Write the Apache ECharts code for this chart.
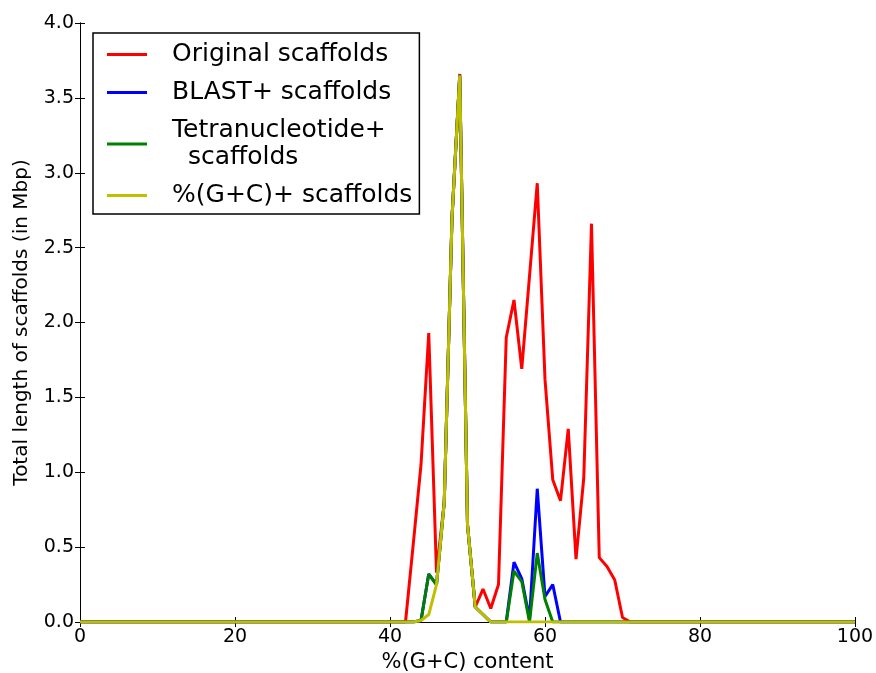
<!DOCTYPE html>
<html>
<head>
<meta charset="utf-8">
<script src="https://cdn.jsdelivr.net/npm/echarts@6/dist/echarts.min.js"></script>
<style>html,body{margin:0;padding:0;background:#fff;}#c{width:876px;height:673px;}</style>
</head>
<body>
<div id="c"></div>
<script>
// %(G+C) content positions (x)
var gc = [0,42,43,44,45,46,47,48,49,50,51,52,53,54,55,56,57,58,59,60,61,62,63,64,65,66,67,68,69,70,71,100];
// Total length (Mbp) per series
var original = [0,0,0.52,1.05,1.93,0.33,0.8,2.7,3.66,0.65,0.1,0.22,0.09,0.25,1.9,2.15,1.69,2.31,2.93,1.62,0.95,0.81,1.29,0.42,0.96,2.66,0.43,0.37,0.28,0.03,0,0];
var blast    = [0,0,0,0.01,0.32,0.25,0.8,2.7,3.65,0.65,0.1,0.05,0,0,0,0.40,0.29,0.02,0.89,0.17,0.25,0,0,0,0,0,0,0,0,0,0,0];
var tetra    = [0,0,0,0.01,0.32,0.25,0.8,2.7,3.65,0.65,0.1,0.05,0,0,0,0.34,0.27,0,0.46,0.15,0,0,0,0,0,0,0,0,0,0,0,0];
var gcPlus   = [0,0,0,0.01,0.05,0.25,0.8,2.7,3.65,0.65,0.1,0.05,0,0,0,0,0,0,0,0,0,0,0,0,0,0,0,0,0,0,0,0];
var names = ['Original scaffolds','BLAST+ scaffolds','Tetranucleotide+\n  scaffolds','%(G+C)+ scaffolds'];
var colors = ['#ff0000','#0000ff','#008000','#bfbf00'];
var seriesValues = [original, blast, tetra, gcPlus];

function pairs(vals){ return gc.map(function(x,i){ return [x, vals[i]]; }); }

var font = 'DejaVu Sans';
var chart = echarts.init(document.getElementById('c'), null, {renderer:'canvas'});
var axisBase = {
  axisLine:{show:true, lineStyle:{color:'#000', width:1}},
  axisTick:{show:true, inside:true, length:5, lineStyle:{color:'#000'}},
  splitLine:{show:false}
};
chart.setOption({
  animation:false,
  backgroundColor:'#fff',
  textStyle:{fontFamily:font},
  grid:{left:80, right:21, top:23, bottom:51, containLabel:false, outerBoundsMode:'none'},
  legend:{
    orient:'vertical', left:93, top:33,
    data:names, icon:'rect',
    itemWidth:40, itemHeight:3, itemGap:11,
    padding:[8,7,5,14],
    borderColor:'#000', borderWidth:1.5, backgroundColor:'#fff',
    textStyle:{fontFamily:font, fontSize:25, color:'#000', lineHeight:27, padding:[0,0,0,20]}
  },
  xAxis:[
    Object.assign({}, axisBase, {type:'value', min:0, max:100, interval:20, position:'bottom',
      name:'%(G+C) content', nameLocation:'middle', nameGap:24,
      nameTextStyle:{fontFamily:font, fontSize:21, color:'#000'},
      axisLabel:{fontFamily:font, fontSize:19, color:'#000', margin:6}}),
    Object.assign({}, axisBase, {type:'value', min:0, max:100, interval:20, position:'top',
      axisLabel:{show:false}})
  ],
  yAxis:[
    Object.assign({}, axisBase, {type:'value', min:0, max:4, interval:0.5, position:'left',
      name:'Total length of scaffolds (in Mbp)', nameLocation:'middle', nameGap:48,
      nameTextStyle:{fontFamily:font, fontSize:20, color:'#000'},
      axisLabel:{fontFamily:font, fontSize:19, color:'#000', margin:6,
        formatter:function(v){return v.toFixed(1);}}}),
    Object.assign({}, axisBase, {type:'value', min:0, max:4, interval:0.5, position:'right',
      axisLabel:{show:false}})
  ],
  series: seriesValues.map(function(vals, i){
    return {
      name:names[i], type:'line', xAxisIndex:0, yAxisIndex:0,
      data:pairs(vals), symbol:'none', showSymbol:false,
      lineStyle:{color:colors[i], width:3}, itemStyle:{color:colors[i]},
      z:2+i
    };
  })
});
</script>
</body>
</html>
